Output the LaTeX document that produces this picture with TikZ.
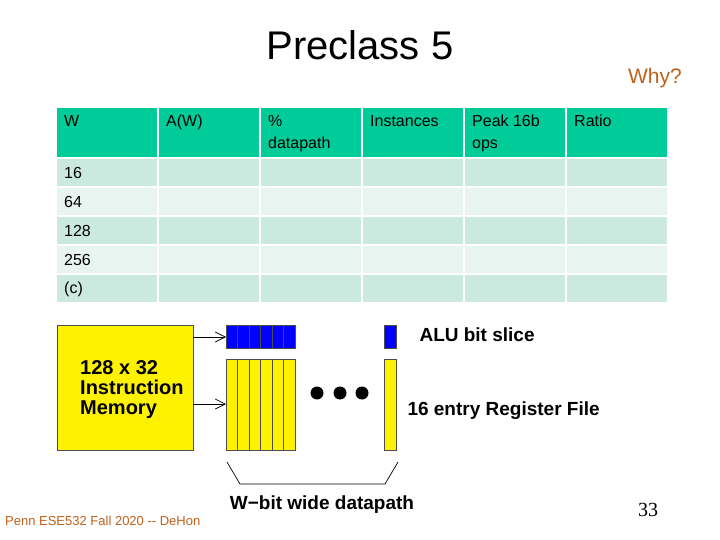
\documentclass[tikz,border=0pt]{standalone}
\usepackage{fontspec}
\setmainfont{Liberation Sans}
\newfontfamily\serifr{Liberation Serif}
\usetikzlibrary{arrows.meta}
\definecolor{hdr}{HTML}{00CC99}
\definecolor{rowa}{HTML}{CCE9DF}
\definecolor{rowb}{HTML}{E8F4EF}
\definecolor{org}{HTML}{C0601A}
\begin{document}
\begin{tikzpicture}[x=1pt,y=-1pt,
  htxt/.style={anchor=north west,font=\fontsize{16}{22}\selectfont,align=left,inner sep=0pt,text=black},
  rtxt/.style={anchor=west,font=\fontsize{16}{18}\selectfont,inner sep=0pt},
  big/.style={font=\bfseries\fontsize{19}{21}\selectfont},
  arr/.style={-{Straight Barb[length=10pt,width=10pt]},line width=0.7pt}]
\useasboundingbox (0,0) rectangle (720,540);
\node (title) at (360,45) {\fontsize{40}{44}\selectfont Preclass 5};
\node[text=org] (why) at (655,78) {\fontsize{21}{24}\selectfont Why?};
% table
\foreach \x [count=\i] in {57,159,261,363,465,567}{
  \fill[hdr] (\x,108) rectangle ++(100,49);
  \foreach \y/\c in {159/rowa,188/rowb,217/rowa,246/rowb,275/rowa}{
    \fill[\c] (\x,\y) rectangle ++(100,27);}
}
\node[htxt] (h1) at (64,115) {W};
\node[htxt] (h2) at (166,115) {A(W)};
\node[htxt] (h3) at (268,115) {\%\\datapath};
\node[htxt] (h4) at (370,115) {Instances};
\node[htxt] (h5) at (472,115) {Peak 16b\\ops};
\node[htxt] (h6) at (574,115) {Ratio};
\node[rtxt] (r1) at (64,173) {16};
\node[rtxt] (r2) at (64,202) {64};
\node[rtxt] (r3) at (64,231) {128};
\node[rtxt] (r4) at (64,260) {256};
\node[rtxt] (r5) at (64,289) {(c)};
% diagram
\node[draw=black!70,fill=yellow,minimum width=136pt,minimum height=125pt,inner sep=0pt] (mem) at (125,387.5) {};
\node[anchor=north west,align=left,inner sep=0pt,font=\bfseries\fontsize{20}{20}\selectfont] (memt) at (80,360) {128 x 32\\Instruction\\Memory};
\foreach \i in {0,...,5}{
  \draw[fill=blue,draw=black!70] (226+\i*11.5,325) rectangle ++(11.5,23);
  \draw[fill=yellow,draw=black!70] (226+\i*11.5,359) rectangle ++(11.5,91);
}
\coordinate (alu) at (226,337);
\coordinate (rf) at (226,404);
\draw[fill=blue,draw=black!70] (384,325) rectangle (396,348);
\draw[fill=yellow,draw=black!70] (384,359) rectangle (396,450);
\draw[arr] (mem.east |- alu) -- (alu);
\draw[arr] (mem.east |- rf) -- (rf);
\foreach \x in {317,340,362} \fill (\x,393) circle (6.5);
\draw[line width=0.7pt] (227,462) -- (240,484) -- (385,484) -- (398,462);
\node[anchor=west,big] (alut) at (416,335) {ALU bit slice};
\node[anchor=west,big] (rft) at (404,411) {16 entry Register File};
\node[big] (wb) at (322,505) {W{\char"2212}bit wide datapath};
\node[anchor=west,text=org,inner sep=0pt] (foot) at (5,521) {\fontsize{13}{15}\selectfont Penn ESE532 Fall 2020 -{}- DeHon};
\node (num) at (648,510) {\serifr\fontsize{20}{22}\selectfont 33};
\end{tikzpicture}
\end{document}
